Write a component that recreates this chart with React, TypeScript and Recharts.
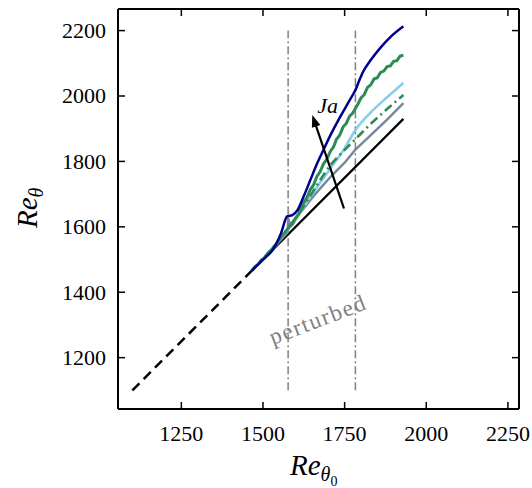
import React from 'react';
import { LineChart, Line, XAxis, YAxis, ReferenceLine, ReferenceDot, Label } from 'recharts';

// axes
const xTicks = [1250, 1500, 1750, 2000, 2250];
const yTicks = [1200, 1400, 1600, 1800, 2000, 2200];
const xDomain = [1056, 2284];
const yDomain = [1043, 2266];

// laminar reference (dashed) and base case
const laminarX = [1100, 1465];
const laminarY = [1100, 1465];
const baseX = [1465, 1930];
const baseY = [1465, 1930];

// Ja cases
const grayX = [1465, 1520, 1560, 1576, 1577, 1582, 1620, 1660, 1707, 1750, 1783, 1830, 1880, 1930];
const grayY = [1465, 1522, 1566, 1584, 1628, 1606, 1650, 1700, 1753, 1796, 1836, 1880, 1928, 1978];

const skyX = [1465, 1520, 1560, 1600, 1645, 1707, 1750, 1783, 1830, 1880, 1930];
const skyY = [1465, 1525, 1572, 1622, 1692, 1779, 1840, 1896, 1950, 1996, 2040];

const dashGreenX = [1465, 1520, 1560, 1600, 1645, 1707, 1750, 1783, 1830, 1880, 1930];
const dashGreenY = [1465, 1525, 1574, 1625, 1695, 1789, 1835, 1868, 1915, 1960, 2003];

const greenX = [1465, 1475, 1485, 1495, 1505, 1515, 1525, 1535, 1545, 1555, 1565, 1580, 1590, 1600, 1610, 1620, 1635, 1645, 1655, 1665, 1675, 1685, 1695, 1707, 1716, 1725, 1735, 1745, 1755, 1765, 1775, 1783, 1792, 1800, 1810, 1820, 1830, 1840, 1850, 1860, 1870, 1880, 1890, 1900, 1910, 1920, 1930];
const greenY = [1465, 1478, 1485, 1499, 1504, 1519, 1528, 1541, 1552, 1570, 1580, 1600, 1608, 1627, 1640, 1666, 1690, 1714, 1728, 1754, 1768, 1792, 1806, 1832, 1844, 1868, 1880, 1905, 1916, 1938, 1948, 1962, 1978, 1994, 2004, 2026, 2034, 2052, 2056, 2072, 2076, 2090, 2092, 2106, 2108, 2122, 2125];

const navyX = [1465, 1500, 1530, 1555, 1574, 1590, 1605, 1625, 1645, 1666, 1686, 1707, 1730, 1750, 1770, 1783, 1795, 1807, 1830, 1860, 1890, 1930];
const navyY = [1465, 1500, 1530, 1580, 1632, 1636, 1650, 1694, 1743, 1794, 1837, 1881, 1925, 1960, 1995, 2018, 2048, 2075, 2110, 2148, 2180, 2213];

// perturbed strip bounds
const perturbStart = 1577;
const perturbEnd = 1783;
const perturbSpan = [1100, 2200];

// annotations
const arrowFrom = { x: 1748, y: 1656 };
const arrowTo = { x: 1651, y: 1942 };
const jaAt = { x: 1666, y: 1948 };
const perturbedAt = { x: 1668, y: 1316 };

const zip = (xs: number[], ys: number[]) => xs.map((x, i) => ({ x, y: ys[i] }));

const FONT = '"Liberation Serif", "DejaVu Serif", serif';
const TICK_LEN = 7;

function BottomTick({ x, y, payload }: any) {
    return (
        <g>
            <line x1={x} y1={y} x2={x} y2={y - TICK_LEN} stroke="#000" strokeWidth={1.5} />
            <text x={x} y={y + 32} textAnchor="middle" fontFamily={FONT} fontSize={22} fill="#000">{payload.value}</text>
        </g>
    );
}

function LeftTick({ x, y, payload }: any) {
    return (
        <g>
            <line x1={x} y1={y} x2={x + TICK_LEN} y2={y} stroke="#000" strokeWidth={1.5} />
            <text x={x - 12} y={y + 7.5} textAnchor="end" fontFamily={FONT} fontSize={22} fill="#000">{payload.value}</text>
        </g>
    );
}

function TopTick({ x, y }: any) {
    return <line x1={x} y1={y} x2={x} y2={y + TICK_LEN} stroke="#000" strokeWidth={1.5} />;
}

function RightTick({ x, y }: any) {
    return <line x1={x} y1={y} x2={x - TICK_LEN} y2={y} stroke="#000" strokeWidth={1.5} />;
}

function XTitle({ viewBox }: any) {
    const x = viewBox.x + 172;
    const y = viewBox.y + 66;
    return (
        <text x={x} y={y} fontFamily={FONT} fontStyle="italic" fontSize={29} fill="#000">
            Re
            <tspan dy={6} fontSize={20}>θ</tspan>
            <tspan dy={5} fontSize={14} fontStyle="normal">0</tspan>
        </text>
    );
}

function YTitle({ viewBox }: any) {
    const x = viewBox.x + 37;
    const y = viewBox.y + 219;
    return (
        <text transform={`translate(${x},${y}) rotate(-90)`} fontFamily={FONT} fontStyle="italic" fontSize={29} fill="#000">
            Re
            <tspan dy={6} fontSize={20}>θ</tspan>
        </text>
    );
}

function Arrow({ x1, y1, x2, y2 }: any) {
    const a = Math.atan2(y2 - y1, x2 - x1);
    const L = 12;
    const W = 4.5;
    const bx = x2 - L * Math.cos(a);
    const by = y2 - L * Math.sin(a);
    const p1 = `${x2},${y2}`;
    const p2 = `${bx - W * Math.sin(a)},${by + W * Math.cos(a)}`;
    const p3 = `${bx + W * Math.sin(a)},${by - W * Math.cos(a)}`;
    return (
        <g>
            <line x1={x1} y1={y1} x2={bx + 2 * Math.cos(a)} y2={by + 2 * Math.sin(a)} stroke="#000" strokeWidth={2.2} />
            <polygon points={`${p1} ${p2} ${p3}`} fill="#000" />
        </g>
    );
}

function JaText({ cx, cy }: any) {
    return (
        <text x={cx} y={cy} fontFamily={FONT} fontStyle="italic" fontSize={22} fill="#000">Ja</text>
    );
}

function PerturbedText({ cx, cy }: any) {
    return (
        <text transform={`translate(${cx},${cy}) rotate(-21)`} textAnchor="middle" dominantBaseline="central"
            fontFamily={FONT} fontSize={23} letterSpacing={1.6} fill="#808080">perturbed</text>
    );
}

export default function App() {
    return (
        <div style={{ position: 'absolute', left: 0, top: 0, width: 532, height: 488, background: '#fff' }}>
            <LineChart width={532} height={488} margin={{ top: 8, right: 12, bottom: 0, left: 0 }}>
                <XAxis type="number" dataKey="x" domain={xDomain} ticks={xTicks} interval={0} allowDataOverflow
                    height={79} tickSize={0} tickMargin={0} tick={<BottomTick />}
                    axisLine={{ stroke: '#000', strokeWidth: 2 }}>
                    <Label content={<XTitle />} />
                </XAxis>
                <YAxis type="number" dataKey="y" domain={yDomain} ticks={yTicks} interval={0} allowDataOverflow
                    width={118} tickSize={0} tickMargin={0} tick={<LeftTick />}
                    axisLine={{ stroke: '#000', strokeWidth: 2 }}>
                    <Label content={<YTitle />} />
                </YAxis>
                <XAxis xAxisId="top" orientation="top" type="number" dataKey="x" domain={xDomain} ticks={xTicks}
                    interval={0} allowDataOverflow height={1} tickSize={0} tickMargin={0} tick={<TopTick />}
                    axisLine={{ stroke: '#000', strokeWidth: 2 }} />
                <YAxis yAxisId="right" orientation="right" type="number" dataKey="y" domain={yDomain} ticks={yTicks}
                    interval={0} allowDataOverflow width={1} tickSize={0} tickMargin={0} tick={<RightTick />}
                    axisLine={{ stroke: '#000', strokeWidth: 2 }} />

                {/* invisible series so the mirror axes get drawn */}
                <Line xAxisId="top" yAxisId="right" data={zip(baseX, baseY)} dataKey="y" stroke="none"
                    dot={false} activeDot={false} isAnimationActive={false} />

                <ReferenceLine segment={[{ x: perturbStart, y: perturbSpan[0] }, { x: perturbStart, y: perturbSpan[1] }]}
                    stroke="#808080" strokeWidth={1.5} strokeDasharray="8 3 2 3" />
                <ReferenceLine segment={[{ x: perturbEnd, y: perturbSpan[0] }, { x: perturbEnd, y: perturbSpan[1] }]}
                    stroke="#808080" strokeWidth={1.5} strokeDasharray="8 3 2 3" />

                <Line data={zip(laminarX, laminarY)} dataKey="y" type="linear" stroke="#000" strokeWidth={2.5}
                    strokeDasharray="10 6" dot={false} isAnimationActive={false} />
                <Line data={zip(baseX, baseY)} dataKey="y" type="linear" stroke="#000" strokeWidth={2.2}
                    dot={false} isAnimationActive={false} />
                <Line data={zip(grayX, grayY)} dataKey="y" type="linear" stroke="#778899" strokeWidth={2.4}
                    dot={false} isAnimationActive={false} />
                <Line data={zip(skyX, skyY)} dataKey="y" type="monotone" stroke="#87CEEB" strokeWidth={2.6}
                    dot={false} isAnimationActive={false} />
                <Line data={zip(dashGreenX, dashGreenY)} dataKey="y" type="monotone" stroke="#2E8B57" strokeWidth={2.6}
                    strokeDasharray="9 4 2 4" dot={false} isAnimationActive={false} />
                <Line data={zip(greenX, greenY)} dataKey="y" type="linear" stroke="#2E8B57" strokeWidth={3}
                    dot={false} isAnimationActive={false} />
                <Line data={zip(navyX, navyY)} dataKey="y" type="monotone" stroke="#00008B" strokeWidth={2.5}
                    dot={false} isAnimationActive={false} />

                <ReferenceLine segment={[arrowFrom, arrowTo]} shape={<Arrow />} />
                <ReferenceDot x={jaAt.x} y={jaAt.y} r={0} shape={<JaText />} />
                <ReferenceDot x={perturbedAt.x} y={perturbedAt.y} r={0} shape={<PerturbedText />} />
            </LineChart>
        </div>
    );
}
